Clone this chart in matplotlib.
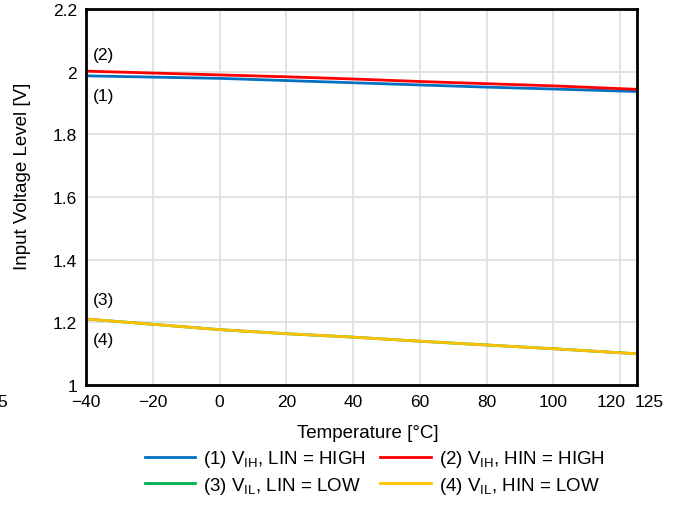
import matplotlib.pyplot as plt
from matplotlib.transforms import ScaledTranslation

plt.rcParams['font.family'] = ['Liberation Sans', 'DejaVu Sans']
plt.rcParams['mathtext.fontset'] = 'custom'
plt.rcParams['mathtext.rm'] = 'Liberation Sans'

# temperature points [C]
temp = [-40, -20, 0, 20, 40, 60, 80, 100, 125]

# input threshold levels [V]
vih_lin = [1.987, 1.983, 1.979, 1.972, 1.965, 1.958, 1.951, 1.945, 1.937]
vih_hin = [2.002, 1.996, 1.990, 1.984, 1.977, 1.969, 1.962, 1.955, 1.944]
vil_lin = [1.211, 1.194, 1.177, 1.164, 1.153, 1.140, 1.128, 1.116, 1.100]
vil_hin = [1.211, 1.194, 1.177, 1.164, 1.153, 1.140, 1.128, 1.116, 1.100]

labels = [r'(1) $\mathregular{V_{IH}}$, LIN = HIGH',
          r'(2) $\mathregular{V_{IH}}$, HIN = HIGH',
          r'(3) $\mathregular{V_{IL}}$, LIN = LOW',
          r'(4) $\mathregular{V_{IL}}$, HIN = LOW']
colors = ['#0070C0', '#FF0000', '#00B050', '#FFC000']

xticks = [-40, -20, 0, 20, 40, 60, 80, 100, 120, 125]
xtick_labels = ['\u221240', '\u221220', '0', '20', '40', '60', '80', '100', '120', '125']
yticks = [1, 1.2, 1.4, 1.6, 1.8, 2, 2.2]
ytick_labels = ['1', '1.2', '1.4', '1.6', '1.8', '2', '2.2']

fig = plt.figure(figsize=(6.76, 5.06), dpi=100)
ax = fig.add_axes([0.1272, 0.237, 0.8148, 0.743])

series = [vih_lin, vih_hin, vil_lin, vil_hin]
handles = []
for vals, c, lab in zip(series, colors, labels):
    h, = ax.plot(temp, vals, color=c, lw=2.0, label=lab)
    handles.append(h)

ax.set_xlim(-40, 125)
ax.set_ylim(1, 2.2)
ax.set_xticks(xticks)
ax.set_xticklabels(xtick_labels)
ax.set_yticks(yticks)
ax.set_yticklabels(ytick_labels)
ax.tick_params(length=0, labelsize=12.5, colors='black')
ax.tick_params(axis='x', pad=6.5)
ax.tick_params(axis='y', pad=6.5)
ax.grid(True, color='#dedede', lw=1.2)
ax.set_axisbelow(True)
for s in ax.spines.values():
    s.set_linewidth(2.0)
    s.set_color('black')

# nudge the crowded 120 / 125 labels apart
xl = ax.get_xticklabels()
xl[-2].set_transform(xl[-2].get_transform() + ScaledTranslation(-9 / 100, 0, fig.dpi_scale_trans))
xl[-1].set_transform(xl[-1].get_transform() + ScaledTranslation(12 / 100, 0, fig.dpi_scale_trans))

ax.set_xlabel('Temperature [\u00b0C]', fontsize=13.5)
ax.set_ylabel('Input Voltage Level [V]', fontsize=13.5)
ax.xaxis.set_label_coords(0.512, -0.103)
ax.yaxis.set_label_coords(-0.1, 0.557)

ax.text(-37.8, 2.055, '(2)', fontsize=12.5, va='center')
ax.text(-37.8, 1.925, '(1)', fontsize=12.5, va='center')
ax.text(-37.8, 1.272, '(3)', fontsize=12.5, va='center')
ax.text(-37.8, 1.145, '(4)', fontsize=12.5, va='center')

fig.text(7 / 676, 1 - 403 / 506, '5', fontsize=12.5, va='center', ha='right')

order = [0, 2, 1, 3]
fig.legend(handles=[handles[i] for i in order], loc='upper center',
           bbox_to_anchor=(0.554, 0.112),
           ncol=2, frameon=False, fontsize=13.5, handlelength=2.67,
           handletextpad=0.43, columnspacing=0.8, labelspacing=0.28,
           borderaxespad=0, borderpad=0)

fig.savefig('out.png', dpi=100)
